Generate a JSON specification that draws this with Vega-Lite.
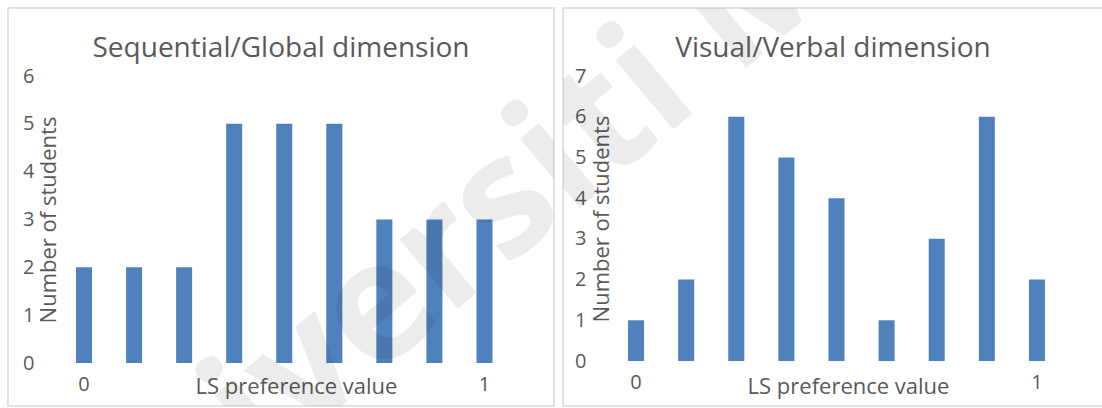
{
  "$schema": "https://vega.github.io/schema/vega-lite/v6.json",
  "background": "white",
  "padding": {"left": 7, "top": 7, "right": 2, "bottom": 3},
  "spacing": 7,
  "config": {
    "font": "Open Sans",
    "view": {"stroke": "#d9d9d9", "strokeWidth": 1.5},
    "title": {"font": "Open Sans", "fontSize": 28, "fontWeight": "normal", "color": "#595959", "anchor": "middle", "baseline": "alphabetic", "offset": -55},
    "axis": {
      "grid": false, "domain": false, "ticks": false, "tickSize": 0, "labelOverlap": false,
      "labelFont": "Open Sans", "labelFontSize": 20, "labelColor": "#595959",
      "titleFont": "Open Sans", "titleFontSize": 22, "titleFontWeight": "normal", "titleColor": "#595959"
    }
  },
  "hconcat": [
    {
      "width": 546,
      "height": 398,
      "title": "Sequential/Global dimension",
      "layer": [
        {
          "data": {"values": [
            {"pref": "0", "students": 2},
            {"pref": "0.125", "students": 2},
            {"pref": "0.25", "students": 2},
            {"pref": "0.375", "students": 5},
            {"pref": "0.5", "students": 5},
            {"pref": "0.625", "students": 5},
            {"pref": "0.75", "students": 3},
            {"pref": "0.875", "students": 3},
            {"pref": "1", "students": 3}
          ]},
          "mark": {"type": "bar", "color": "#4F81BD", "width": {"band": 0.32}},
          "encoding": {
            "x": {
              "field": "pref", "type": "ordinal",
              "scale": {"domain": ["0", "0.125", "0.25", "0.375", "0.5", "0.625", "0.75", "0.875", "1"], "range": [51, 501.5], "paddingInner": 0, "paddingOuter": 0},
              "axis": {
                "offset": -43, "labelAngle": 0, "labelPadding": 11,
                "labelExpr": "datum.value == '0' || datum.value == '1' ? datum.value : ''",
                "title": "LS preference value", "titleX": 288, "titleY": 23, "titleBaseline": "middle"
              }
            },
            "y": {
              "field": "students", "type": "quantitative",
              "scale": {"domain": [0, 6], "range": [355, 68], "nice": false},
              "axis": {
                "offset": -30, "labelPadding": 4, "values": [0, 1, 2, 3, 4, 5, 6], "format": "d",
                "title": "Number of students", "titleX": 10, "titleBaseline": "middle"
              }
            }
          }
        },
        {
          "data": {"values": [{"wm": "Universiti Malaya"}]},
          "mark": {"type": "text", "clip": true, "angle": 320, "align": "left", "baseline": "alphabetic", "font": "Open Sans", "fontWeight": "bold", "fontSize": 165, "fill": "#000000", "opacity": 0.07},
          "encoding": {
            "x": {"datum": "0", "type": "ordinal"},
            "y": {"datum": -5.415, "type": "quantitative"},
            "text": {"field": "wm", "type": "nominal"}
          }
        }
      ]
    },
    {
      "width": 540,
      "height": 398,
      "title": "Visual/Verbal dimension",
      "resolve": {"scale": {"x": "independent"}},
      "layer": [
        {
          "data": {"values": [
            {"pref": "0", "students": 1},
            {"pref": "0.125", "students": 2},
            {"pref": "0.25", "students": 6},
            {"pref": "0.375", "students": 5},
            {"pref": "0.5", "students": 4},
            {"pref": "0.625", "students": 1},
            {"pref": "0.75", "students": 3},
            {"pref": "0.875", "students": 6},
            {"pref": "1", "students": 2}
          ]},
          "mark": {"type": "bar", "color": "#4F81BD", "width": {"band": 0.32}},
          "encoding": {
            "x": {
              "field": "pref", "type": "ordinal",
              "scale": {"domain": ["0", "0.125", "0.25", "0.375", "0.5", "0.625", "0.75", "0.875", "1"], "range": [48, 499], "paddingInner": 0, "paddingOuter": 0},
              "axis": {
                "offset": -45, "labelAngle": 0, "labelPadding": 11,
                "labelExpr": "datum.value == '0' || datum.value == '1' ? datum.value : ''",
                "title": "LS preference value", "titleX": 285, "titleY": 25, "titleBaseline": "middle"
              }
            },
            "y": {
              "field": "students", "type": "quantitative",
              "scale": {"domain": [0, 7], "range": [353, 68], "nice": false},
              "axis": {
                "offset": -27, "labelPadding": 4, "values": [0, 1, 2, 3, 4, 5, 6, 7], "format": "d",
                "title": "Number of students", "titleX": 11, "titleBaseline": "middle"
              }
            }
          }
        },
        {
          "data": {"values": [{"wm": "Universiti Malaya"}]},
          "mark": {"type": "text", "clip": true, "angle": 320, "align": "left", "baseline": "alphabetic", "font": "Open Sans", "fontWeight": "bold", "fontSize": 165, "fill": "#000000", "opacity": 0.07},
          "encoding": {
            "x": {"datum": -1.3715, "type": "quantitative", "scale": {"domain": [0, 1], "range": [73, 474]}, "axis": null},
            "y": {"datum": -6.411, "type": "quantitative"},
            "text": {"field": "wm", "type": "nominal"}
          }
        }
      ]
    }
  ]
}
